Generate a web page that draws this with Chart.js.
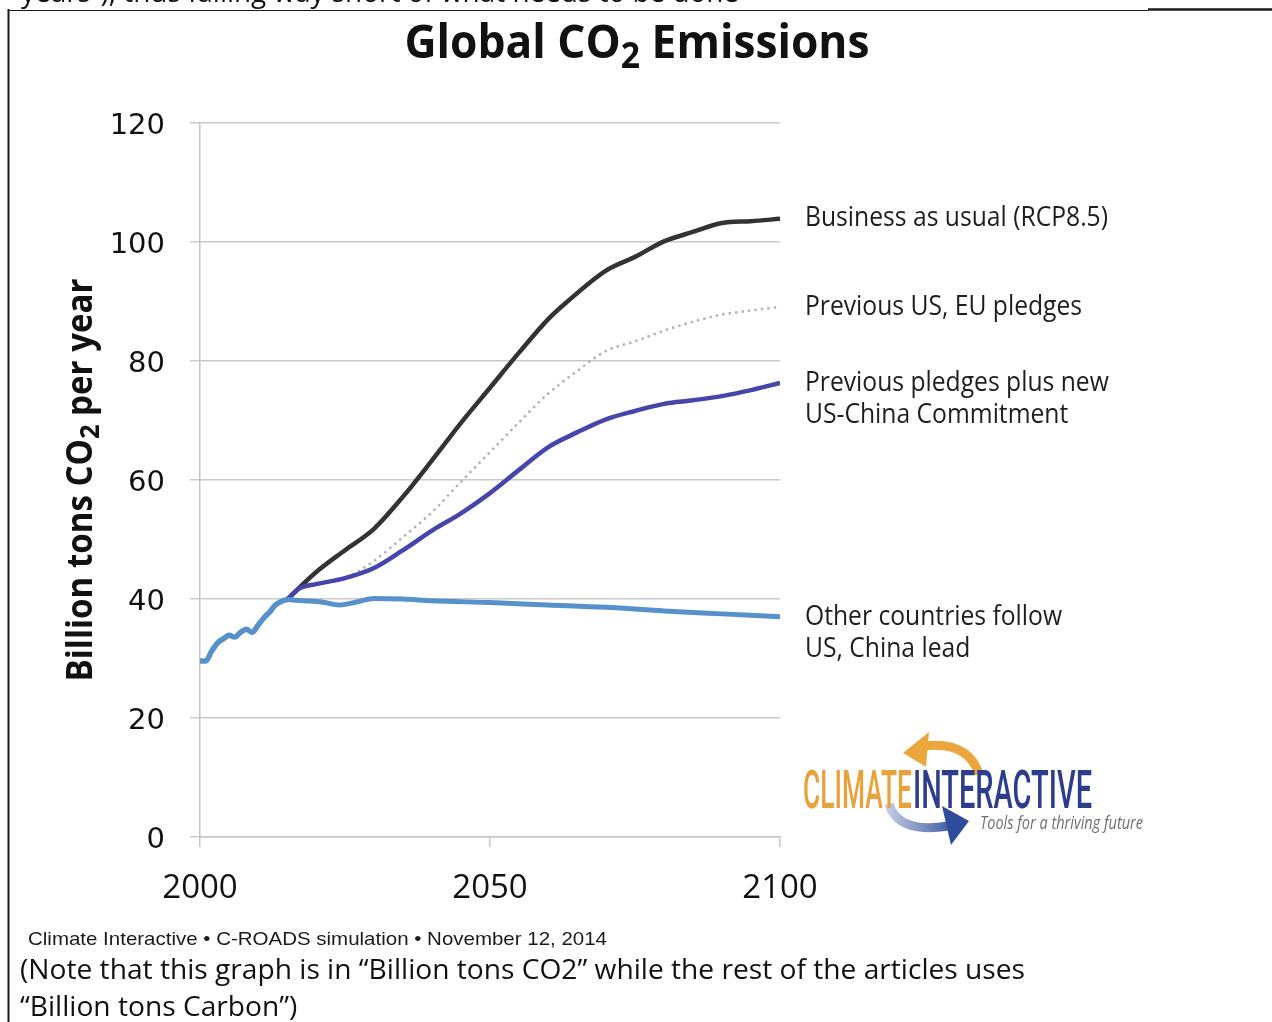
<!DOCTYPE html>
<html>
<head>
<meta charset="utf-8">
<script src="https://cdn.jsdelivr.net/npm/chart.js@4.4.1/dist/chart.umd.min.js"></script>
<style>
  html, body { margin: 0; padding: 0; background: #fff; }
  #wrap { position: relative; width: 1272px; height: 1022px; }
</style>
</head>
<body>
<div id="wrap"><canvas id="co2"></canvas></div>
<script>
// values (billion tons CO2 per year)
const histYears = [2000, 2001, 2002, 2003, 2004, 2005, 2006, 2007, 2008, 2009, 2010, 2011, 2012, 2013, 2014, 2015];
const histValues = [29.6, 29.6, 31.2, 32.6, 33.3, 33.9, 33.6, 34.4, 34.9, 34.4, 35.6, 36.8, 37.8, 39.0, 39.6, 39.9];

const otherYears = [2015, 2018, 2021, 2024, 2027, 2030, 2035, 2040, 2050, 2060, 2070, 2080, 2090, 2100];
const otherValues = [39.9, 39.7, 39.5, 39.0, 39.5, 40.1, 40.0, 39.7, 39.4, 39.0, 38.6, 38.0, 37.5, 37.0];

const bauYears = [2015, 2020, 2025, 2030, 2035, 2040, 2045, 2050, 2055, 2060, 2063, 2070, 2075, 2080, 2085, 2090, 2095, 2100];
const bauValues = [39.9, 44.5, 48.2, 51.8, 57.2, 63.3, 69.6, 75.5, 81.4, 87.0, 89.7, 95.2, 97.5, 100.1, 101.7, 103.2, 103.5, 103.9];

const pledgeYears = [2015, 2017, 2020, 2025, 2030, 2035, 2040, 2045, 2050, 2055, 2060, 2065, 2070, 2075, 2080, 2085, 2090, 2095, 2100];
const pledgeValues = [39.9, 41.7, 42.5, 43.5, 46.4, 50.4, 54.6, 59.7, 64.7, 69.7, 74.5, 78.3, 81.7, 83.3, 85.1, 86.6, 87.8, 88.5, 89.1];

const chinaYears = [2015, 2017, 2020, 2025, 2030, 2035, 2040, 2045, 2050, 2055, 2060, 2065, 2070, 2075, 2080, 2085, 2090, 2095, 2100];
const chinaValues = [39.9, 41.7, 42.5, 43.5, 45.2, 48.2, 51.5, 54.4, 57.8, 61.7, 65.5, 68.0, 70.2, 71.6, 72.8, 73.4, 74.1, 75.1, 76.3];

const xTicks = [2000, 2050, 2100];
const yTicks = [0, 20, 40, 60, 80, 100, 120];

const bauLabel = ['Business as usual (RCP8.5)'];
const pledgeLabel = ['Previous US, EU pledges'];
const chinaLabel = ['Previous pledges plus new', 'US-China Commitment'];
const otherLabel = ['Other countries follow', 'US, China lead'];

function pairs(xs, ys) {
  return xs.map((x, i) => ({ x: x, y: ys[i] }));
}

// draw a row of text runs squeezed to a given width
function drawRuns(ctx, runs, x, y, width, align) {
  let total = 0;
  runs.forEach(r => { ctx.font = r.font; r.w = ctx.measureText(r.text).width; total += r.w; });
  const s = width ? width / total : 1;
  let x0 = x;
  if (align === 'center') x0 = x - total * s / 2;
  ctx.save();
  ctx.translate(x0, y);
  ctx.scale(s, 1);
  ctx.textAlign = 'left';
  let cx = 0;
  runs.forEach(r => {
    ctx.font = r.font;
    ctx.fillText(r.text, cx, r.dy || 0);
    cx += r.w;
  });
  ctx.restore();
}

function drawLogo(ctx) {
  ctx.save();
  // orange arrow
  ctx.strokeStyle = '#eba73d';
  ctx.fillStyle = '#eba73d';
  ctx.lineWidth = 9;
  ctx.beginPath();
  ctx.moveTo(979, 774);
  ctx.quadraticCurveTo(968, 741, 924, 746);
  ctx.stroke();
  ctx.beginPath();
  ctx.moveTo(903, 753);
  ctx.lineTo(929, 732);
  ctx.lineTo(926, 767);
  ctx.closePath();
  ctx.fill();
  // blue arrow
  const g = ctx.createLinearGradient(888, 0, 960, 0);
  g.addColorStop(0, '#c3cbe3');
  g.addColorStop(1, '#2f4b9c');
  ctx.strokeStyle = g;
  ctx.lineWidth = 9;
  ctx.beginPath();
  ctx.moveTo(889, 804);
  ctx.quadraticCurveTo(898, 834, 948, 826);
  ctx.stroke();
  ctx.fillStyle = '#2f4b9c';
  ctx.beginPath();
  ctx.moveTo(969, 821);
  ctx.lineTo(942, 806);
  ctx.lineTo(951, 845);
  ctx.closePath();
  ctx.fill();

  ctx.textBaseline = 'alphabetic';
  ctx.fillStyle = '#e9a23a';
  drawRuns(ctx, [{ text: 'CLIMATE', font: '500 53px Roboto' }], 803, 808, 109, 'left');
  ctx.fillStyle = '#2d3d8e';
  drawRuns(ctx, [{ text: 'INTERACTIVE', font: '500 53px Roboto' }], 913, 808, 179, 'left');
  ctx.fillStyle = '#6f6f6f';
  drawRuns(ctx, [{ text: 'Tools for a thriving future', font: 'italic 19px "Open Sans"' }], 980, 829, 163, 'left');
  ctx.restore();
}

const textPlugin = {
  id: 'textPlugin',
  beforeDraw(chart) {
    const ctx = chart.ctx;
    ctx.save();
    ctx.strokeStyle = '#1a1a1a';
    ctx.lineWidth = 2;
    ctx.beginPath();
    ctx.moveTo(8.5, 9);
    ctx.lineTo(8.5, 1022);
    ctx.stroke();
    ctx.lineWidth = 1.2;
    ctx.beginPath();
    ctx.moveTo(8, 10.5);
    ctx.lineTo(1148, 10.5);
    ctx.stroke();
    ctx.lineWidth = 2.5;
    ctx.beginPath();
    ctx.moveTo(1148, 9.5);
    ctx.lineTo(1272, 9.5);
    ctx.stroke();
    ctx.restore();
  },
  afterDraw(chart) {
    const ctx = chart.ctx;
    const area = chart.chartArea;
    const yScale = chart.scales.y;
    ctx.save();
    ctx.fillStyle = '#111';
    ctx.textBaseline = 'alphabetic';

    // cut off line of the page above
    drawRuns(ctx, [{ text: 'years\u201d), thus falling way short of what needs to be done', font: '27px "Open Sans"' }], 21, 2, 718, 'left');

    // title
    drawRuns(ctx, [
      { text: 'Global CO', font: 'bold 46px "Open Sans"' },
      { text: '2', font: 'bold 35px "Open Sans"', dy: 10 },
      { text: ' Emissions', font: 'bold 46px "Open Sans"' }
    ], 637, 58, 465, 'center');

    // y axis title
    ctx.save();
    ctx.translate(92, (area.top + area.bottom) / 2);
    ctx.rotate(-Math.PI / 2);
    drawRuns(ctx, [
      { text: 'Billion tons CO', font: 'bold 35px "Open Sans"' },
      { text: '2', font: 'bold 27px "Open Sans"', dy: 7 },
      { text: ' per year', font: 'bold 35px "Open Sans"' }
    ], 0, 0, 403, 'center');
    ctx.restore();

    // series labels at the end of each line
    ctx.font = '27px "Open Sans"';
    const sx = 303 / ctx.measureText(bauLabel[0]).width;
    ctx.textBaseline = 'middle';
    ctx.fillStyle = '#1e1e1e';
    const ends = [
      [bauLabel, bauValues[bauValues.length - 1]],
      [pledgeLabel, pledgeValues[pledgeValues.length - 1]],
      [chinaLabel, chinaValues[chinaValues.length - 1]],
      [otherLabel, otherValues[otherValues.length - 1]]
    ];
    ends.forEach(([lines, v]) => {
      const py = yScale.getPixelForValue(v);
      lines.forEach((t, i) => {
        ctx.save();
        ctx.translate(area.right + 25, py + i * 32);
        ctx.scale(sx, 1);
        ctx.fillText(t, 0, 0);
        ctx.restore();
      });
    });

    ctx.textBaseline = 'alphabetic';
    drawLogo(ctx);

    ctx.fillStyle = '#1a1a1a';
    drawRuns(ctx, [{ text: 'Climate Interactive \u2022 C-ROADS simulation \u2022 November 12, 2014', font: '19px "Liberation Sans"' }], 28, 945, 579, 'left');

    ctx.fillStyle = '#111';
    ctx.font = '27px "Open Sans"';
    const note1 = '(Note that this graph is in \u201cBillion tons CO2\u201d while the rest of the articles uses';
    const ns = 1005 / ctx.measureText(note1).width;
    [[note1, 979], ['\u201cBillion tons Carbon\u201d)', 1016]].forEach(([t, y]) => {
      ctx.save();
      ctx.translate(20, y);
      ctx.scale(ns, 1);
      ctx.fillText(t, 0, 0);
      ctx.restore();
    });
    ctx.restore();
  }
};

const ctx = document.getElementById('co2').getContext('2d');
new Chart(ctx, {
  type: 'line',
  data: {
    datasets: [{
      label: 'History',
      data: pairs(histYears, histValues),
      borderColor: '#5791cb',
      borderWidth: 5.5
    }, {
      label: 'Other countries follow US, China lead',
      data: pairs(otherYears, otherValues),
      borderColor: '#5791cb',
      borderWidth: 5
    }, {
      label: 'Previous pledges plus new US-China Commitment',
      data: pairs(chinaYears, chinaValues),
      borderColor: '#4545ab',
      borderWidth: 4.5
    }, {
      label: 'Business as usual (RCP8.5)',
      data: pairs(bauYears, bauValues),
      borderColor: '#333333',
      borderWidth: 4.5
    }, {
      label: 'Previous US, EU pledges',
      data: pairs(pledgeYears, pledgeValues),
      borderColor: '#b3b3b3',
      borderWidth: 2.5,
      borderDash: [2.5, 4]
    }]
  },
  options: {
    responsive: true,
    maintainAspectRatio: false,
    animation: false,
    elements: {
      point: { radius: 0, hoverRadius: 0 },
      line: { cubicInterpolationMode: 'monotone', fill: false }
    },
    layout: { padding: { left: 0, top: 123, right: 492, bottom: 105 } },
    plugins: {
      legend: { display: false },
      tooltip: { enabled: false }
    },
    scales: {
      x: {
        type: 'linear',
        min: 2000,
        max: 2100,
        afterBuildTicks: s => { s.ticks = xTicks.map(v => ({ value: v })); },
        afterFit: s => { s.height = 80; },
        grid: { drawOnChartArea: false, drawTicks: true, tickLength: 10, color: '#c4c4c4', lineWidth: 1.5 },
        border: { color: '#c8c8c8', width: 1.5 },
        ticks: { color: '#111', padding: 22, font: { family: 'Open Sans', size: 33 }, callback: v => String(v) }
      },
      y: {
        min: 0,
        max: 120,
        afterBuildTicks: s => { s.ticks = yTicks.map(v => ({ value: v })); },
        afterFit: s => { s.width = 200; },
        grid: { color: '#cacaca', lineWidth: 1.5, tickLength: 10 },
        border: { color: '#c4c4c4', width: 1.5 },
        ticks: { color: '#111', padding: 25, labelOffset: 3, font: { family: 'DejaVu Sans', size: 29 } }
      }
    }
  },
  plugins: [textPlugin]
});
</script>
</body>
</html>
